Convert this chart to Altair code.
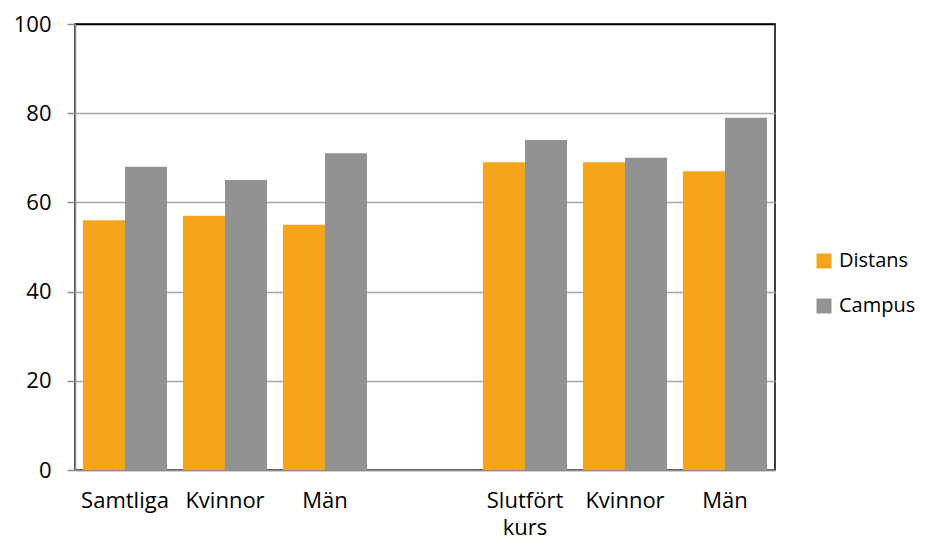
import altair as alt
import pandas as pd
import json

keys = ["Samtliga", "Kvinnor1", "Män1", "gap", "Slutfört kurs", "Kvinnor2", "Män2"]
labels = ["Samtliga", "Kvinnor", "Män", "", "Slutfört|kurs", "Kvinnor", "Män"]
series = ["Distans", "Campus"]
distans = [56, 57, 55, None, 69, 69, 67]
campus = [68, 65, 71, None, 74, 70, 79]

rows = []
for k, d, c in zip(keys, distans, campus):
    if d is not None:
        rows.append({"cat": k, "serie": "Distans", "value": d})
    if c is not None:
        rows.append({"cat": k, "serie": "Campus", "value": c})
df = pd.DataFrame(rows)

label_expr = f"split({json.dumps(labels)}[indexof({json.dumps(keys)}, datum.value)], '|')"

FONT = "Open Sans"

chart = alt.Chart(df).mark_bar().encode(
    x=alt.X("cat:N", sort=keys,
            scale=alt.Scale(domain=keys, paddingInner=0.16, paddingOuter=0.08),
            axis=alt.Axis(title=None, labelExpr=label_expr, labelAngle=0, ticks=False,
                          domainColor="#8c8c8c", domainWidth=1.5,
                          labelFont=FONT, labelFontSize=22, labelColor="black",
                          labelPadding=20, labelLineHeight=27)),
    xOffset=alt.XOffset("serie:N", sort=series, scale=alt.Scale(domain=series)),
    y=alt.Y("value:Q", scale=alt.Scale(domain=[0, 100]),
            axis=alt.Axis(title=None, values=[0, 20, 40, 60, 80, 100],
                          domainColor="#8c8c8c", domainWidth=1.5,
                          tickColor="#8c8c8c", tickSize=8, tickWidth=1.5,
                          gridColor={"condition": {"test": "datum.value === 100", "value": "black"},
                                     "value": "#a6a6a6"},
                          gridWidth=1.5,
                          labelFont=FONT, labelFontSize=22, labelColor="black",
                          labelPadding=16)),
    color=alt.Color("serie:N", sort=series,
                    scale=alt.Scale(domain=series, range=["#F4A51C", "#929292"]),
                    legend=alt.Legend(title=None, orient="none", legendX=739, legendY=227,
                                      symbolType="square", symbolSize=225, symbolStrokeWidth=0,
                                      labelFont=FONT, labelFontSize=20, labelColor="black",
                                      labelOffset=5, rowPadding=25)),
).properties(
    width=700, height=446,
    autosize=alt.AutoSizeParams(type="none"),
    padding={"left": 67, "top": 16, "right": 144, "bottom": 69},
).configure_view(
    stroke="black", strokeWidth=1.5
)

chart.save("out.html", embed_options={"renderer": "svg", "actions": False})
